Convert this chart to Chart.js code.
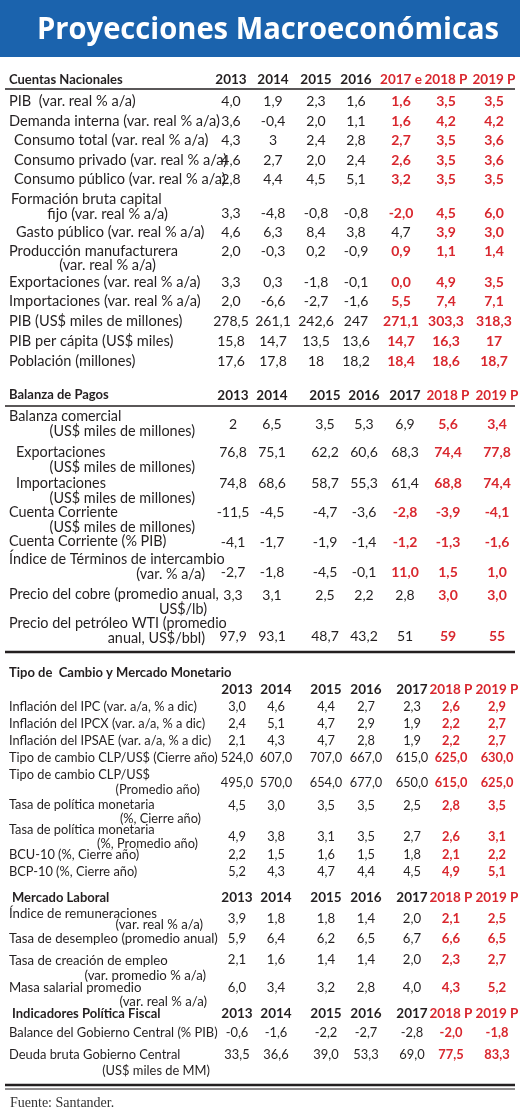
<!DOCTYPE html>
<html><head><meta charset="utf-8">
<script src="https://cdn.jsdelivr.net/npm/chart.js@4.4.1/dist/chart.umd.min.js"></script>
<style>html,body{margin:0;padding:0;background:#fff}canvas{display:block}</style>
</head><body><canvas id="c" width="520" height="1115"></canvas>
<script>
// ---------- DATA ----------
const title = "Proyecciones Macroeconómicas";
const source = "Fuente: Santander.";

const cnTitle = "Cuentas Nacionales";
const cnYears = ["2013","2014","2015","2016","2017 e","2018 P","2019 P"];
const cnLabels = [
 ["PIB  (var. real % a/a)"],["Demanda interna (var. real % a/a)"],["Consumo total (var. real % a/a)"],
 ["Consumo privado (var. real % a/a)"],["Consumo público (var. real % a/a)"],
 ["Formación bruta capital","fijo (var. real % a/a)"],["Gasto público (var. real % a/a)"],
 ["Producción manufacturera","(var. real % a/a)"],["Exportaciones (var. real % a/a)"],
 ["Importaciones (var. real % a/a)"],["PIB (US$ miles de millones)"],["PIB per cápita (US$ miles)"],["Población (millones)"]];
const cnValues = [
 ["4,0","1,9","2,3","1,6","1,6","3,5","3,5"],
 ["3,6","-0,4","2,0","1,1","1,6","4,2","4,2"],
 ["4,3","3","2,4","2,8","2,7","3,5","3,6"],
 ["4,6","2,7","2,0","2,4","2,6","3,5","3,6"],
 ["2,8","4,4","4,5","5,1","3,2","3,5","3,5"],
 ["3,3","-4,8","-0,8","-0,8","-2,0","4,5","6,0"],
 ["4,6","6,3","8,4","3,8","4,7","3,9","3,0"],
 ["2,0","-0,3","0,2","-0,9","0,9","1,1","1,4"],
 ["3,3","0,3","-1,8","-0,1","0,0","4,9","3,5"],
 ["2,0","-6,6","-2,7","-1,6","5,5","7,4","7,1"],
 ["278,5","261,1","242,6","247","271,1","303,3","318,3"],
 ["15,8","14,7","13,5","13,6","14,7","16,3","17"],
 ["17,6","17,8","18","18,2","18,4","18,6","18,7"]];

const bpTitle = "Balanza de Pagos";
const bpYears = ["2013","2014","2015","2016","2017","2018 P","2019 P"];
const bpLabels = [
 ["Balanza comercial","(US$ miles de millones)"],["Exportaciones","(US$ miles de millones)"],
 ["Importaciones","(US$ miles de millones)"],["Cuenta Corriente","(US$ miles de millones)"],
 ["Cuenta Corriente (% PIB)"],["Índice de Términos de intercambio","(var. % a/a)"],
 ["Precio del cobre (promedio anual,","US$/lb)"],["Precio del petróleo WTI (promedio","anual, US$/bbl)"]];
const bpValues = [
 ["2","6,5","3,5","5,3","6,9","5,6","3,4"],
 ["76,8","75,1","62,2","60,6","68,3","74,4","77,8"],
 ["74,8","68,6","58,7","55,3","61,4","68,8","74,4"],
 ["-11,5","-4,5","-4,7","-3,6","-2,8","-3,9","-4,1"],
 ["-4,1","-1,7","-1,9","-1,4","-1,2","-1,3","-1,6"],
 ["-2,7","-1,8","-4,5","-0,1","11,0","1,5","1,0"],
 ["3,3","3,1","2,5","2,2","2,8","3,0","3,0"],
 ["97,9","93,1","48,7","43,2","51","59","55"]];

const tcTitle = "Tipo de  Cambio y Mercado Monetario";
const tcYears = ["2013","2014","2015","2016","2017","2018 P","2019 P"];
const tcLabels = [
 ["Inflación del IPC (var. a/a, % a dic)"],["Inflación del IPCX (var. a/a, % a dic)"],
 ["Inflación del IPSAE (var. a/a, % a dic)"],["Tipo de cambio CLP/US$ (Cierre año)"],
 ["Tipo de cambio CLP/US$","(Promedio año)"],["Tasa de política monetaria","(%, Cierre año)"],
 ["Tasa de política monetaria","(%, Promedio año)"],["BCU-10 (%, Cierre año)"],["BCP-10 (%, Cierre año)"]];
const tcValues = [
 ["3,0","4,6","4,4","2,7","2,3","2,6","2,9"],
 ["2,4","5,1","4,7","2,9","1,9","2,2","2,7"],
 ["2,1","4,3","4,7","2,8","1,9","2,2","2,7"],
 ["524,0","607,0","707,0","667,0","615,0","625,0","630,0"],
 ["495,0","570,0","654,0","677,0","650,0","615,0","625,0"],
 ["4,5","3,0","3,5","3,5","2,5","2,8","3,5"],
 ["4,9","3,8","3,1","3,5","2,7","2,6","3,1"],
 ["2,2","1,5","1,6","1,5","1,8","2,1","2,2"],
 ["5,2","4,3","4,7","4,4","4,5","4,9","5,1"]];

const mlTitle = "Mercado Laboral";
const mlLabels = [
 ["Índice de remuneraciones","(var. real % a/a)"],["Tasa de desempleo (promedio anual)"],
 ["Tasa de creación de empleo","(var. promedio % a/a)"],["Masa salarial promedio","(var. real % a/a)"]];
const mlValues = [
 ["3,9","1,8","1,8","1,4","2,0","2,1","2,5"],
 ["5,9","6,4","6,2","6,5","6,7","6,6","6,5"],
 ["2,1","1,6","1,4","1,4","2,0","2,3","2,7"],
 ["6,0","3,4","3,2","2,8","4,0","4,3","5,2"]];

const pfTitle = "Indicadores Política Fiscal";
const pfLabels = [["Balance del Gobierno Central (% PIB)"],["Deuda bruta Gobierno Central","(US$ miles de MM)"]];
const pfValues = [
 ["-0,6","-1,6","-2,2","-2,7","-2,8","-2,0","-1,8"],
 ["33,5","36,6","39,0","53,3","69,0","77,5","83,3"]];

// ---------- LAYOUT / STYLE ----------
const RED = "#d9272e", INK = "#231f20", BLUE = "#1b63ad";
const FONT = "Lato";
const sections = [
 {title:cnTitle, titleY:80, years:cnYears, yearsY:80, cols:[231,273,316,356,401,446,494], redFrom:4, blackCells:[[6,4]],
  labels:cnLabels, values:cnValues, rule:89, fs:14.6,
  valY:[101,121,140,160,179,213,232,251,282,301,321,341,361],
  lab:[[[9,101,"l"]],[[9,121,"l"]],[[14,140,"l"]],[[14,160,"l"]],[[14,179,"l"]],[[11,199,"l"],[168,214,"r"]],
       [[16,232,"l"]],[[9,251,"l"],[156,265,"r"]],[[9,282,"l"]],[[9,301,"l"]],[[9,321,"l"]],[[9,341,"l"]],[[9,361,"l"]]]},
 {title:bpTitle, titleY:395, years:bpYears, yearsY:396, cols:[233,272,325,364,405,448,497], redFrom:5, redCells:[[3,4],[4,4],[5,4]],
  labels:bpLabels, values:bpValues, rule:406, fs:14.4,
  valY:[424,452,483,512,542,572,595,636],
  lab:[[[9,416,"l"],[195,431,"r"]],[[16,452,"l"],[195,467,"r"]],[[16,483,"l"],[195,498,"r"]],[[9,512,"l"],[195,527,"r"]],
       [[9,541,"l"]],[[9,559,"l"],[205,574,"r"]],[[9,594,"l"],[207,609,"r"]],[[9,623,"l"],[205,638,"r"]]]},
 {title:tcTitle, titleY:673, years:tcYears, yearsY:690, cols:[237,276,326,366,412,451,497], redFrom:5, fs:12.8,
  labels:tcLabels, values:tcValues,
  valY:[707,724,741,758,783,806,837,855,872],
  lab:[[[9,707,"l"]],[[9,724,"l"]],[[9,741,"l"]],[[9,758,"l"]],[[9,775,"l"],[200,790,"r"]],
       [[9,805,"l"],[201,819,"r"]],[[9,830,"l"],[198,844,"r"]],[[9,855,"l"]],[[9,872,"l"]]]},
 {title:mlTitle, titleY:898, years:tcYears, yearsY:898, cols:[237,276,326,366,412,451,497], redFrom:5, titleX:12, fs:13.2,
  labels:mlLabels, values:mlValues,
  valY:[919,939,960,988],
  lab:[[[9,914,"l"],[203,925,"r"]],[[9,939,"l"]],[[9,961,"l"],[206,976,"r"]],[[9,988,"l"],[207,1002,"r"]]]},
 {title:pfTitle, titleY:1014, years:tcYears, yearsY:1014, cols:[237,276,326,366,412,451,497], redFrom:5, titleX:12, fs:12.9,
  labels:pfLabels, values:pfValues,
  valY:[1033,1055],
  lab:[[[9,1033,"l"]],[[9,1055,"l"],[210,1071,"r"]]]}
];

const tablePlugin = {
 id:"table",
 afterDraw(chart){
  const ctx = chart.ctx, sx = chart.scales.x, sy = chart.scales.y;
  const X = v=>sx.getPixelForValue(v), Y = v=>sy.getPixelForValue(v);
  ctx.save();
  ctx.fillStyle = BLUE;
  ctx.fillRect(X(0),Y(0),X(520)-X(0),Y(57)-Y(0));
  ctx.fillStyle = "#fff"; ctx.textAlign="center"; ctx.textBaseline="middle";
  ctx.font = "bold 31px 'Open Sans'";
  const tw = ctx.measureText(title).width; const s = 462/tw;
  ctx.save(); ctx.translate(X(268),Y(30)); ctx.scale(s,1); ctx.fillText(title,0,0); ctx.restore();

  const txt=(t,x,y,al,font,col)=>{ctx.font=font;ctx.fillStyle=col;ctx.textAlign=al==="r"?"right":al==="c"?"center":"left";ctx.fillText(t,X(x),Y(y));};
  sections.forEach((sec,si)=>{
    const reg = sec.fs+"px "+FONT, bold = "bold "+sec.fs+"px "+FONT;
    const vfs = Math.min(sec.fs,14);
    const vreg = vfs+"px "+FONT, vbold = "bold "+vfs+"px "+FONT;
    txt(sec.title, sec.titleX||9, sec.titleY, "l", "bold 13px "+FONT, INK);
    sec.years.forEach((yr,i)=>txt(yr, sec.cols[i], sec.yearsY, "c", "bold 13.5px "+FONT, (i>=sec.redFrom||(si===0&&i>=4))?RED:INK));
    if(sec.rule){ctx.strokeStyle=INK;ctx.lineWidth=1.5;ctx.beginPath();ctx.moveTo(X(5),Y(sec.rule));ctx.lineTo(X(515),Y(sec.rule));ctx.stroke();}
    sec.labels.forEach((lines,r)=>lines.forEach((t,k)=>{const p=sec.lab[r][k]; txt(t,p[0],p[1],p[2],reg,INK);}));
    sec.values.forEach((row,r)=>row.forEach((v,c)=>{
      let red = c>=sec.redFrom;
      if(sec.redCells && sec.redCells.some(a=>a[0]===r&&a[1]===c)) red=true;
      if(sec.blackCells && sec.blackCells.some(a=>a[0]===r&&a[1]===c)) red=false;
      txt(v, sec.cols[c], sec.valY[r], "c", red?vbold:vreg, red?RED:INK);
    }));
  });
  ctx.strokeStyle=INK;
  ctx.lineWidth=2.5;ctx.beginPath();ctx.moveTo(X(5),Y(652));ctx.lineTo(X(515),Y(652));ctx.stroke();
  ctx.lineWidth=2.5;ctx.beginPath();ctx.moveTo(X(5),Y(1085));ctx.lineTo(X(515),Y(1085));ctx.stroke();
  ctx.lineWidth=1;ctx.beginPath();ctx.moveTo(X(5),Y(1089));ctx.lineTo(X(515),Y(1089));ctx.stroke();
  txt(source,10,1103,"l","14px 'Liberation Serif'","#333");
  ctx.restore();
 }
};

new Chart(document.getElementById("c"),{
 type:"scatter",
 data:{datasets:[{data:[],pointRadius:0}]},
 options:{responsive:false,animation:false,layout:{padding:0},
  plugins:{legend:{display:false},tooltip:{enabled:false}},
  scales:{x:{type:"linear",min:0,max:520,display:false},y:{type:"linear",min:0,max:1115,reverse:true,display:false}}},
 plugins:[tablePlugin]
});
</script></body></html>
